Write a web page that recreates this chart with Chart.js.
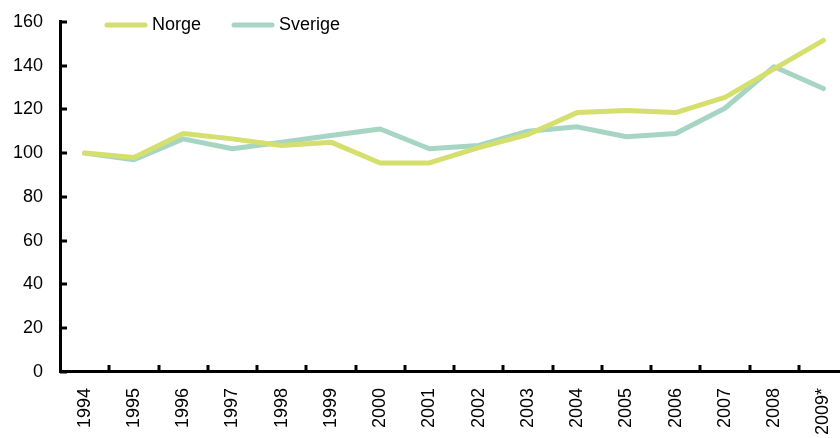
<!DOCTYPE html>
<html>
<head>
<meta charset="utf-8">
<script src="https://cdn.jsdelivr.net/npm/chart.js@4/dist/chart.umd.min.js"></script>
<style>
  html, body { margin: 0; padding: 0; background: #fff; }
  #frame { width: 840px; height: 438px; overflow: hidden; position: relative; }
  /* the plot runs slightly past the right edge, so the canvas is a bit larger than the frame */
  #wrap { position: absolute; left: 0; top: -6px; width: 861px; height: 444px; }
</style>
</head>
<body>
<div id="frame"><div id="wrap"><canvas id="chart"></canvas></div></div>
<script>
const years = ['1994', '1995', '1996', '1997', '1998', '1999', '2000', '2001',
               '2002', '2003', '2004', '2005', '2006', '2007', '2008', '2009*']
const norge   = [100, 98, 109, 106.5, 103.5, 105, 95.5, 95.5, 102.5, 108.5, 118.5, 119.5, 118.5, 125.5, 138.5, 151.5]
const sverige = [100, 97, 106.5, 102, 105, 108, 111, 102, 103.5, 110, 112, 107.5, 109, 120.5, 139.5, 129.5]
const yTicks  = { min: 0, max: 160, step: 20 }

const FONT = "'Liberation Sans', Arial, sans-serif"

// tick marks drawn on the inside of both axes, plus a legend sitting in the plot
const axisDecor = {
    id: 'axisDecor',
    afterDatasetsDraw(chart) {
        const ctx = chart.ctx
        const { x, y } = chart.scales
        const area = chart.chartArea
        ctx.save()
        ctx.strokeStyle = '#000'
        ctx.lineWidth = 3
        ctx.beginPath()
        y.ticks.forEach(t => {
            const py = Math.round(y.getPixelForValue(t.value))
            ctx.moveTo(area.left, py)
            ctx.lineTo(area.left + 7, py)
        })
        const half = (x.getPixelForValue(1) - x.getPixelForValue(0)) / 2
        for (let i = 1; i < years.length; i++) {
            const px = Math.round(x.getPixelForValue(i) - half)
            ctx.moveTo(px, area.bottom)
            ctx.lineTo(px, area.bottom - 7)
        }
        ctx.stroke()

        // legend
        const slots = [105, 232]
        const ly = 31
        ctx.font = '18px ' + FONT
        ctx.textBaseline = 'middle'
        ctx.lineCap = 'round'
        chart.data.datasets.forEach((ds, i) => {
            const lx = slots[i]
            ctx.strokeStyle = ds.borderColor
            ctx.lineWidth = 5
            ctx.beginPath()
            ctx.moveTo(lx + 2, ly)
            ctx.lineTo(lx + 40, ly)
            ctx.stroke()
            ctx.fillStyle = '#000'
            ctx.fillText(ds.label, lx + 47, ly)
        })
        ctx.restore()
    }
}

new Chart(document.getElementById('chart'), {
    type: 'line',
    data: {
        labels: years,
        datasets: [
            { label: 'Norge', data: norge, borderColor: '#d4df6e' },
            { label: 'Sverige', data: sverige, borderColor: '#a6d5c4' }
        ]
    },
    options: {
        responsive: true,
        maintainAspectRatio: false,
        animation: false,
        layout: { padding: { top: 8, right: 0, left: -4, bottom: -13 } },
        elements: {
            line: { borderWidth: 5, tension: 0, borderCapStyle: 'round', borderJoinStyle: 'round' },
            point: { radius: 0 }
        },
        plugins: {
            legend: { display: false },
            tooltip: { enabled: false }
        },
        scales: {
            x: {
                offset: true,
                grid: { display: false, drawTicks: false },
                border: { color: '#000', width: 3 },
                ticks: {
                    color: '#000',
                    font: { family: FONT, size: 18 },
                    minRotation: 90,
                    maxRotation: 90,
                    padding: 16,
                    autoSkip: false
                }
            },
            y: {
                min: yTicks.min,
                max: yTicks.max,
                grid: { display: false, drawTicks: false },
                border: { color: '#000', width: 3 },
                ticks: {
                    stepSize: yTicks.step,
                    color: '#000',
                    font: { family: FONT, size: 18 },
                    padding: 17
                }
            }
        }
    },
    plugins: [axisDecor]
})
</script>
</body>
</html>
